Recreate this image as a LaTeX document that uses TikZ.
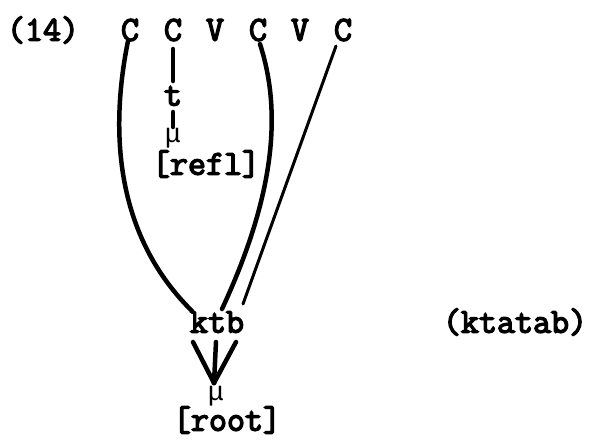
\documentclass[tikz,border=0pt]{standalone}
\usepackage{fontspec}
\newfontfamily\tw{Latin Modern Mono}[FakeBold=4]
\newfontfamily\mufont{Liberation Mono}
\begin{document}
\begin{tikzpicture}[x=1pt,y=-1pt,
  lbl/.style={inner sep=0pt,font=\fontsize{35}{40}\tw},
  sml/.style={inner sep=0pt,font=\fontsize{27}{30}\mufont},
  thk/.style={line width=4.5pt,line cap=round},
  thn/.style={line width=3pt,line cap=round}]
\useasboundingbox (0,0) rectangle (595,440);
\node[lbl] (n14) at (43,30) {(14)};
\node[lbl] (c1) at (130,30) {C};
\node[lbl] (c2) at (173,30) {C};
\node[lbl] (v1) at (215,30) {V};
\node[lbl] (c3) at (258,30) {C};
\node[lbl] (v2) at (300,30) {V};
\node[lbl] (c4) at (343,30) {C};
\node[lbl] (t) at (173,96) {t};
\node[sml] (mu1) at (173,138) {μ};
\node[lbl] (refl) at (206,164) {[refl]};
\node[lbl] (ktb) at (217,322) {ktb};
\node[lbl] (ktatab) at (515,322) {(ktatab)};
\node[sml] (mu2) at (216,396) {μ};
\node[lbl] (root) at (227,420) {[root]};
\coordinate (k1) at (192,311);
\coordinate (k2) at (222,309);
\coordinate (k3) at (243,304);
\coordinate (b1) at (193,342);
\coordinate (b2) at (216,342);
\coordinate (b3) at (236,342);
\coordinate (m) at (214,383);
\coordinate (t1) at (173,49);
\coordinate (t2) at (173,81);
\coordinate (t3) at (173,112);
\coordinate (t4) at (173,127);
\draw[thk] (128,41) .. controls (112,120) and (110,230) .. (k1);
\draw[thk] (260,44) .. controls (278,100) and (282,180) .. (k2);
\draw[thn] (336,46) -- (k3);
\draw[thk] (t1) -- (t2);
\draw[thk] (t3) -- (t4);
\draw[thk] (b1) -- (m);
\draw[thk] (b2) -- (m);
\draw[thk] (b3) -- (m);
\end{tikzpicture}
\end{document}
